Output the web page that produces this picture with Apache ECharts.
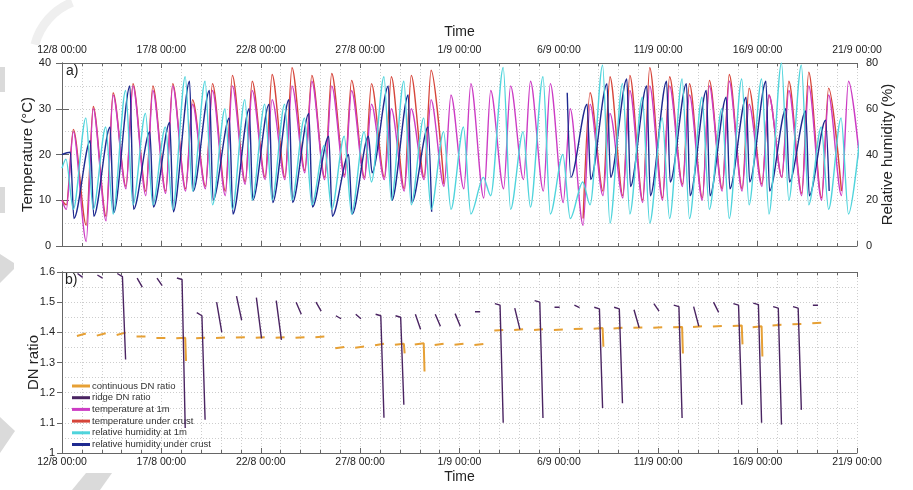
<!DOCTYPE html>
<html>
<head>
<meta charset="utf-8">
<script src="https://cdn.jsdelivr.net/npm/echarts@6.0.0/dist/echarts.min.js"></script>
<style>
html,body{margin:0;padding:0;background:#fff;}
#chart{width:913px;height:490px;}
</style>
</head>
<body>
<div id="chart"></div>
<script>
// time axis: days since 12/8 00:00
const tickLabels = ['12/8 00:00','17/8 00:00','22/8 00:00','27/8 00:00','1/9 00:00','6/9 00:00','11/9 00:00','16/9 00:00','21/9 00:00'];
const nDays = 40;

// time of day (fraction) where the daily extremes sit
const tempLowAt = 0.22, tempHighAt = 0.57;
const rhAirHighAt = 0.2, rhAirLowAt = 0.57;
const rhCrustHighAt = 0.42, rhCrustLowAt = 0.6;

// value at 12/8 00:00
const startTempAir = 10, startTempCrust = 10, startRhAir = 34, startRhCrust = 40;

// temperature (degC), daily minimum (41st = 21/9 morning) and maximum
const tempAirMin = [8,1,5.5,12.5,11,11.5,12,12.5,11,13.5, 14.5,14.5,16,14.5,15,14.5,14.5,12,14.5,13, 12.5,10.5,12.5,14.5,12,9.5,4.5,11,10.5,9.5, 10,13,10,12,12,13,15,11,10,11, 15];
const tempAirMax = [25,30,33,35,34,35,31,34,35,34, 32,35,36,35,34,31,30,30,32,33, 35.5,34,35,36,35.5,30,31,29,34,35, 35,33,35,36,31,33,34,35,33,36];
const tempCrustMin = [9,4.5,6.5,13,12,12,12.5,13,12,14, 15,15,16.5,15,15.5,15,15,12.5,15,13.5, null,null,null,null,null,null,6,12,11,10, 10.5,13.5,10.5,12.5,12.5,13.5,15,11.5,10.5,12, null];
const tempCrustMax = [25.5,30.5,33.5,35.5,35,35.5,32,35.5,37.3,36, 37.5,39,37.3,37.7,36.2,35.5,37,37.3,38.4,null, null,null,null,null,null,null,33.5,37,37.3,39, 37,35.5,36.2,37.5,34.5,33,36,38,34.5,null];

// relative humidity (%), daily maximum (41st = 21/9 morning) and minimum
const rhAirMax = [38,56,52,68,58,52,74,72,60,64, 62,62,56,44,48,50,74,72,56,50, 52,30,78,50,74,40,28,79,71,65, 56,73,65,60,73,73,80,79,52,56, 52];
const rhAirMin = [16,16,14,18,18,16,24,18,16,20, 20,20,18,16,14,28,20,18,16,16, 14,22,16,17,14,12,18,10,14,10, 12,12,16,12,18,14,20,18,16,14];
const rhCrustMax = [41,46,52,70,50,54,72,68,56,60, 62,64,58,48,40,48,70,66,52,null, null,null,null,null,null,67,62,71,73,70, 72,71,68,65,65,72,60,59,55,null, null];
const rhCrustMin = [12,13,14.6,16,17,15,24,20,14,20, 19,19,17,13,14,32,20,19,15,null, null,null,null,null,null,30,29,30,26,22, 28,22,22,25,28,24,28,22,24,null];

// DN ratio, one short record around 00:00 of day k = 1..38
const contStart = [1.388,1.389,1.391,1.386,1.381,1.380,1.380,1.381,1.383,1.382,1.382,1.382,1.384,
  1.347,1.349,1.357,1.359,1.360,1.358,1.359,1.358,
  1.406,1.408,1.408,1.408,1.411,1.412,1.413,1.415,1.415,1.417,1.418,1.419,1.421,1.417,1.423,1.427,1.430];
const contEnd = [1.396,1.397,1.399,1.386,1.381,1.382,1.382,1.383,1.384,1.384,1.384,1.384,1.386,
  1.351,1.353,1.362,1.362,1.364,1.362,1.362,1.361,
  1.408,1.410,1.410,1.409,1.412,1.414,1.415,1.416,1.417,1.418,1.420,1.421,1.423,1.420,1.425,1.428,1.432];
const contDrop = [null,null,null,null,null,1.305,null,null,null,null, null,null,null,null,null,null,1.33,1.27,null,null,
  null,null,null,null,null,null,1.352,null,null,null, 1.33,null,null,1.36,1.32,null,null,null];
const ridgeStart = [1.595,1.590,1.595,1.580,1.580,1.580,1.465,1.500,1.520,1.515,
  1.505,1.500,1.500,1.455,1.460,1.460,1.455,1.460,1.460,1.462,
  1.468,1.495,1.480,1.505,1.483,1.490,1.483,1.483,1.475,1.495,
  1.490,1.485,1.500,1.495,1.497,1.485,1.485,1.490];
const ridgeEnd = [1.582,1.580,1.585,1.550,1.555,1.575,1.455,1.400,1.440,1.380,
  1.375,1.460,1.470,1.445,1.445,1.455,1.450,1.410,1.420,1.420,
  1.468,1.490,1.410,1.500,1.483,1.482,1.478,1.478,1.415,1.470,
  1.485,1.420,1.466,1.490,1.492,1.480,1.480,1.490];
const ridgeDrop = [null,null,1.31,null,null,1.083,1.11,null,null,null, null,null,null,null,null,1.117,1.16,null,null,null,
  null,1.10,null,1.116,null,null,1.149,1.165,null,null, 1.116,null,null,1.16,1.10,1.094,1.143,null];

function dailyCycle(firstAt, first, secondAt, second, startVal) {
  const pts = [[0, startVal]];
  for (let d = 0; d < nDays; d++) {
    pts.push([d + firstAt, first[d] == null ? '-' : first[d]]);
    pts.push([d + secondAt, second[d] == null ? '-' : second[d]]);
  }
  if (first[nDays] != null) pts.push([nDays + firstAt, first[nDays]]);
  return pts;
}
function dnSegments(start, end, drop, t0, t1, t2) {
  const pts = [];
  start.forEach((v, i) => {
    const k = i + 1;
    pts.push([k + t0, v], [k + t1, end[i]]);
    if (drop[i] != null) pts.push([k + t2, drop[i]]);
    pts.push([k + t2 + 0.04, '-']);
  });
  return pts;
}

const font = 'Liberation Sans, Arial, sans-serif';
const axisCol = '#666';
const gridLine = { show: true, lineStyle: { color: '#cdcdcd', type: [1, 2], width: 1 } };
const noLine = { show: false };
const shade = '#dadada';

function timeAxis(gridIndex, position, labels, grid, nameGap, margin) {
  return {
    type: 'value', gridIndex: gridIndex, position: position, min: 0, max: nDays, interval: 5,
    axisLine: { show: true, onZero: false, lineStyle: { color: axisCol } },
    axisTick: { show: true, inside: true, length: 5, lineStyle: { color: axisCol } },
    minorTick: { show: true, splitNumber: 5, length: 3, lineStyle: { color: axisCol } },
    axisLabel: { show: labels, margin: margin, fontSize: 10.5, color: '#222', fontFamily: font,
      formatter: v => tickLabels[Math.round(v / 5)] },
    splitLine: grid ? gridLine : noLine,
    minorSplitLine: grid ? gridLine : noLine,
    name: labels ? 'Time' : '', nameLocation: 'middle', nameGap: nameGap, nameMoveOverlap: false,
    nameTextStyle: { fontSize: 14, color: '#222', fontFamily: font }
  };
}

const chart = echarts.init(document.getElementById('chart'));
window.addEventListener('resize', function() { chart.resize(); });

const line = (name, color, width, x, y, data, z) => ({
  name: name, type: 'line', xAxisIndex: x, yAxisIndex: y, data: data, z: z,
  showSymbol: false, symbol: 'none', connectNulls: false, smooth: x === 0 ? 0.3 : false,
  smoothMonotone: 'x', lineStyle: { color: color, width: width }, itemStyle: { color: color }
});

const option = {
  animation: false,
  backgroundColor: '#fff',
  grid: [
    { left: 62, top: 63, width: 795, height: 183 },
    { left: 62, top: 272, width: 795, height: 181 }
  ],
  xAxis: [
    timeAxis(0, 'top', true, true, 24, 7),
    timeAxis(0, 'bottom', false, false, 0, 0),
    timeAxis(1, 'bottom', true, true, 17, 4),
    timeAxis(1, 'top', false, false, 0, 0)
  ],
  yAxis: [
    { type: 'value', gridIndex: 0, position: 'left', min: 0, max: 40, interval: 10,
      name: 'Temperature (°C)', nameLocation: 'middle', nameGap: 27, nameMoveOverlap: false,
      nameTextStyle: { fontSize: 15, color: '#222', fontFamily: font },
      axisLine: { show: true, lineStyle: { color: axisCol } },
      axisTick: { show: true, length: 6, lineStyle: { color: axisCol } },
      axisLabel: { margin: 11, fontSize: 11, color: '#222', fontFamily: font },
      splitLine: gridLine, minorTick: { show: false, splitNumber: 2 }, minorSplitLine: gridLine },
    { type: 'value', gridIndex: 0, position: 'right', min: 0, max: 80, interval: 20,
      name: 'Relative humidity (%)', nameLocation: 'middle', nameGap: 23, nameRotate: 90, nameMoveOverlap: false,
      nameTextStyle: { fontSize: 15, color: '#222', fontFamily: font },
      axisLine: { show: true, lineStyle: { color: axisCol } },
      axisTick: { show: true, length: 7, lineStyle: { color: axisCol } },
      axisLabel: { margin: 9, fontSize: 11, color: '#222', fontFamily: font },
      splitLine: noLine },
    { type: 'value', gridIndex: 1, position: 'left', min: 1, max: 1.6, interval: 0.1,
      name: 'DN ratio', nameLocation: 'middle', nameGap: 21, nameMoveOverlap: false,
      nameTextStyle: { fontSize: 15, color: '#222', fontFamily: font },
      axisLine: { show: true, lineStyle: { color: axisCol } },
      axisTick: { show: true, length: 5, lineStyle: { color: axisCol } },
      axisLabel: { margin: 7, fontSize: 11, color: '#222', fontFamily: font,
        formatter: v => String(+v.toFixed(1)) },
      splitLine: gridLine, minorTick: { show: false, splitNumber: 2 }, minorSplitLine: gridLine },
    { type: 'value', gridIndex: 1, position: 'right', min: 1, max: 1.6, interval: 0.1,
      axisLine: { show: true, lineStyle: { color: axisCol } },
      axisTick: { show: true, inside: true, length: 5, lineStyle: { color: axisCol } },
      axisLabel: { show: false }, splitLine: noLine }
  ],
  legend: {
    data: ['continuous DN ratio','ridge DN ratio','temperature at 1m','temperature under crust','relative humidity at 1m','relative humidity under crust'],
    orient: 'vertical', left: 72, top: 381, padding: 0, icon: 'rect',
    itemWidth: 18, itemHeight: 3, itemGap: 1.7, selectedMode: false,
    textStyle: { fontSize: 9.5, lineHeight: 10, color: '#333', fontFamily: font, padding: [0, 0, 0, -3] }
  },
  series: [
    line('temperature under crust', '#d6453a', 1.4, 0, 0, dailyCycle(tempLowAt, tempCrustMin, tempHighAt, tempCrustMax, startTempCrust), 2),
    line('temperature at 1m', '#cc3cc4', 1.4, 0, 0, dailyCycle(tempLowAt, tempAirMin, tempHighAt, tempAirMax, startTempAir), 3),
    line('relative humidity under crust', '#1e2a90', 1.4, 0, 1, dailyCycle(rhCrustHighAt, rhCrustMax, rhCrustLowAt, rhCrustMin, startRhCrust), 4),
    line('relative humidity at 1m', '#4fd4dc', 1.4, 0, 1, dailyCycle(rhAirHighAt, rhAirMax, rhAirLowAt, rhAirMin, startRhAir), 5),
    line('continuous DN ratio', '#e6a035', 2, 2, 2, dnSegments(contStart, contEnd, contDrop, -0.25, 0.2, 0.24), 3),
    line('ridge DN ratio', '#4a2462', 1.4, 2, 2, dnSegments(ridgeStart, ridgeEnd, ridgeDrop, -0.22, 0.04, 0.2), 4)
  ],
  graphic: [
    { type: 'text', left: 66, top: 64, style: { text: 'a)', fontSize: 14, fill: '#222', fontFamily: font } },
    { type: 'text', left: 65, top: 273, style: { text: 'b)', fontSize: 14, fill: '#222', fontFamily: font } },
    // faint watermark pieces at the left edge
    { type: 'rect', shape: { x: 0, y: 67, width: 5, height: 25 }, style: { fill: shade }, silent: true, z: -1 },
    { type: 'rect', shape: { x: 0, y: 187, width: 5, height: 26 }, style: { fill: shade }, silent: true, z: -1 },
    { type: 'polygon', shape: { points: [[0, 254], [14, 263], [14, 269], [0, 283]] }, style: { fill: shade }, silent: true, z: -1 },
    { type: 'polygon', shape: { points: [[0, 417], [15, 431], [0, 453]] }, style: { fill: shade }, silent: true, z: -1 },
    { type: 'polygon', shape: { points: [[72, 490], [86, 473], [112, 473], [100, 490]] }, style: { fill: shade }, silent: true, z: -1 },
    { type: 'arc', shape: { cx: 95, cy: 60, r: 62, startAngle: Math.PI * 1.08, endAngle: Math.PI * 1.38 },
      style: { stroke: '#efefef', lineWidth: 9, fill: null }, silent: true, z: -1 }
  ]
};
chart.setOption(option);
</script>
</body>
</html>
